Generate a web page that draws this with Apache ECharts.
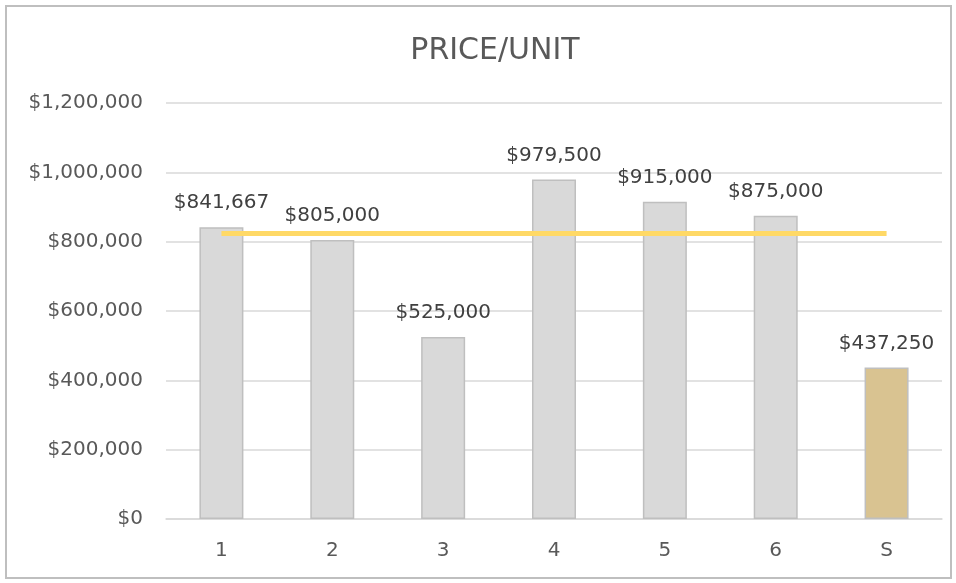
<!DOCTYPE html>
<html>
<head>
<meta charset="utf-8">
<script src="https://cdn.jsdelivr.net/npm/echarts@6/dist/echarts.min.js"></script>
<style>
  html, body { margin: 0; padding: 0; background: #fff; }
  #frame { position: absolute; left: 5px; top: 5px; width: 943px; height: 570px; border: 2px solid #bfbfbf; }
  #chart { position: absolute; left: 0; top: 0; width: 956px; height: 583px; }
</style>
</head>
<body>
<div id="frame"></div>
<div id="chart"></div>
<script>
const categories = ['1', '2', '3', '4', '5', '6', 'S']
const prices = [841667, 805000, 525000, 979500, 915000, 875000, 437250]
const averageLine = [823528, 823528, 823528, 823528, 823528, 823528, 823528]
const yTicks = { min: 0, max: 1200000, interval: 200000 }

const fmt = (v) => '$' + Math.round(v).toLocaleString('en-US')

const chart = echarts.init(document.getElementById('chart'), null, { renderer: 'canvas' })

chart.setOption({
  animation: false,
  textStyle: { fontFamily: '"DejaVu Sans", sans-serif' },
  title: {
    text: 'PRICE/UNIT',
    left: 490,
    textAlign: 'center',
    top: 31,
    textStyle: { fontSize: 30, fontWeight: 'normal', color: '#595959', fontFamily: '"DejaVu Sans", sans-serif' },
  },
  grid: { left: 166, right: 14, top: 103, bottom: 64 },
  xAxis: {
    type: 'category',
    data: categories,
    axisLine: { lineStyle: { color: '#d9d9d9', width: 1.5 } },
    axisTick: { show: false },
    axisLabel: { color: '#595959', fontSize: 20, margin: 22 },
  },
  yAxis: {
    type: 'value',
    min: yTicks.min,
    max: yTicks.max,
    interval: yTicks.interval,
    axisLine: { show: false },
    axisTick: { show: false },
    splitLine: { lineStyle: { color: '#d9d9d9', width: 1.5 } },
    axisLabel: { color: '#595959', fontSize: 20, margin: 23, formatter: fmt },
  },
  series: [
    {
      type: 'bar',
      data: prices.map((v, i) => ({
        value: v,
        itemStyle: i === prices.length - 1
          ? { color: '#d9c391', borderColor: '#bfbfbf', borderWidth: 1.5 }
          : { color: '#d9d9d9', borderColor: '#bfbfbf', borderWidth: 1.5 },
      })),
      barWidth: 44,
      label: {
        show: true,
        position: 'top',
        distance: 14,
        color: '#404040',
        fontSize: 20,
        formatter: (p) => fmt(p.value),
      },
      z: 2,
    },
    {
      type: 'line',
      data: averageLine,
      symbol: 'none',
      lineStyle: { color: '#ffd966', width: 5 },
      z: 3,
    },
  ],
})
</script>
</body>
</html>
